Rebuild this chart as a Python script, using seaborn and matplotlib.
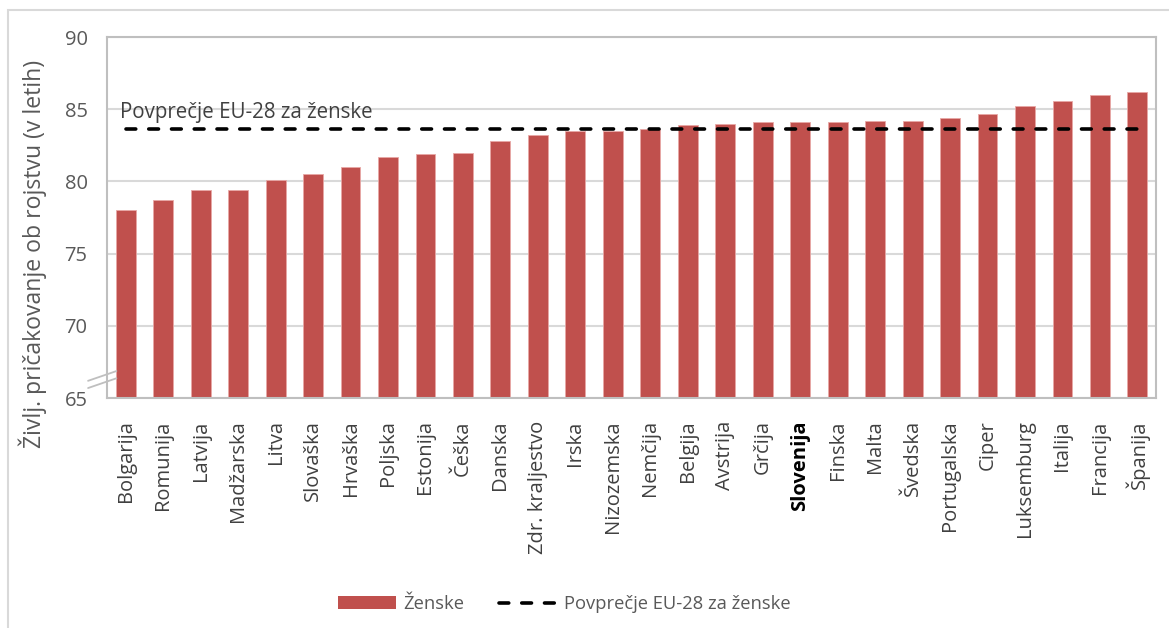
import matplotlib
matplotlib.use("Agg")
import matplotlib.pyplot as plt
from matplotlib.lines import Line2D
from matplotlib.patches import Patch, Rectangle
import seaborn as sns
import pandas as pd

# Female life expectancy at birth, EU member states
countries = ["Bolgarija", "Romunija", "Latvija", "Madžarska", "Litva", "Slovaška",
             "Hrvaška", "Poljska", "Estonija", "Češka", "Danska", "Zdr. kraljestvo",
             "Irska", "Nizozemska", "Nemčija", "Belgija", "Avstrija", "Grčija",
             "Slovenija", "Finska", "Malta", "Švedska", "Portugalska", "Ciper",
             "Luksemburg", "Italija", "Francija", "Španija"]
life_expectancy = [78.0, 78.7, 79.4, 79.4, 80.1, 80.5, 81.0, 81.7, 81.9, 82.0,
                   82.8, 83.2, 83.5, 83.5, 83.6, 83.9, 84.0, 84.1, 84.1, 84.1,
                   84.2, 84.2, 84.4, 84.7, 85.2, 85.6, 86.0, 86.2]
eu_average = 83.6
y_ticks = [65, 70, 75, 80, 85, 90]

series_label = "Ženske"
avg_label = "Povprečje EU-28 za ženske"
y_label = "Življ. pričakovanje ob rojstvu (v letih)"

sns.set_theme(style="white")
plt.rcParams["font.family"] = ["Open Sans", "DejaVu Sans"]

bar_color = "#C0504D"
text_color = "#595959"
grid_color = "#D9D9D9"
spine_color = "#BFBFBF"

df = pd.DataFrame({"country": countries, "value": life_expectancy})

fig = plt.figure(figsize=(11.69, 6.28), dpi=100)
ax = fig.add_axes([0.0915, 0.366, 0.8975, 0.575])

sns.barplot(data=df, x="country", y="value", color=bar_color, width=0.53,
            saturation=1, edgecolor="#E8A8A6", linewidth=0.6, ax=ax, zorder=2)

# EU-28 average as a dashed line across all countries
xs = list(range(len(countries)))
dash = (0, (2.7, 3.6))
ax.plot(xs, [eu_average] * len(xs), color="black", linewidth=2.6,
        linestyle=dash, dash_capstyle="round", zorder=3)
ax.text(-0.16, 84.05, avg_label, fontsize=14.8, color="#404040",
        ha="left", va="bottom", zorder=4)

ax.set_ylim(65, 90)
ax.set_xlim(-0.5, len(countries) - 0.5)
ax.set_yticks(y_ticks)
ax.yaxis.grid(True, color=grid_color, linewidth=1.5, zorder=0)
ax.set_axisbelow(True)
for s in ax.spines.values():
    s.set_color(spine_color)
    s.set_linewidth(1.5)

ax.tick_params(axis="y", length=0, pad=14, labelsize=14.5, labelcolor=text_color)
ax.tick_params(axis="x", length=0, pad=16, labelsize=14.5, labelcolor="#404040")
ax.set_xticks(xs)
ax.set_xticklabels(countries, rotation=90, va="top", ha="center")
for lbl in ax.get_xticklabels():
    if lbl.get_text() == "Slovenija":
        lbl.set_fontweight("bold")
        lbl.set_color("black")

ax.set_xlabel("")
ax.set_ylabel(y_label, fontsize=16.6, color=text_color)
ax.yaxis.set_label_coords(-0.057, 0.40)

# axis break marks at the bottom of the value axis
brk = dict(transform=ax.transAxes, color="#BFBFBF", linewidth=1.3, clip_on=False)
ax.add_line(Line2D([-0.018, 0.009], [0.048, 0.075], **brk))
ax.add_line(Line2D([-0.018, 0.009], [0.028, 0.055], **brk))

handles = [Patch(facecolor=bar_color, edgecolor="none", label=series_label),
           Line2D([0], [0], color="black", linewidth=2.6, linestyle=dash,
                  dash_capstyle="round", label=avg_label)]
leg = fig.legend(handles=handles, loc="center", bbox_to_anchor=(0.4825, 0.038),
                 ncol=2, frameon=False, fontsize=13.2, handlelength=3.2,
                 handleheight=0.7, columnspacing=1.9, handletextpad=0.35)
for t in leg.get_texts():
    t.set_color(text_color)

# chart frame
fig.patches.append(Rectangle((8 / 1169, -0.05), 1.1, 1 - 10 / 628 + 0.05,
                             transform=fig.transFigure, fill=False,
                             edgecolor="#D9D9D9", linewidth=1.5))

fig.savefig("out.png", dpi=100)
